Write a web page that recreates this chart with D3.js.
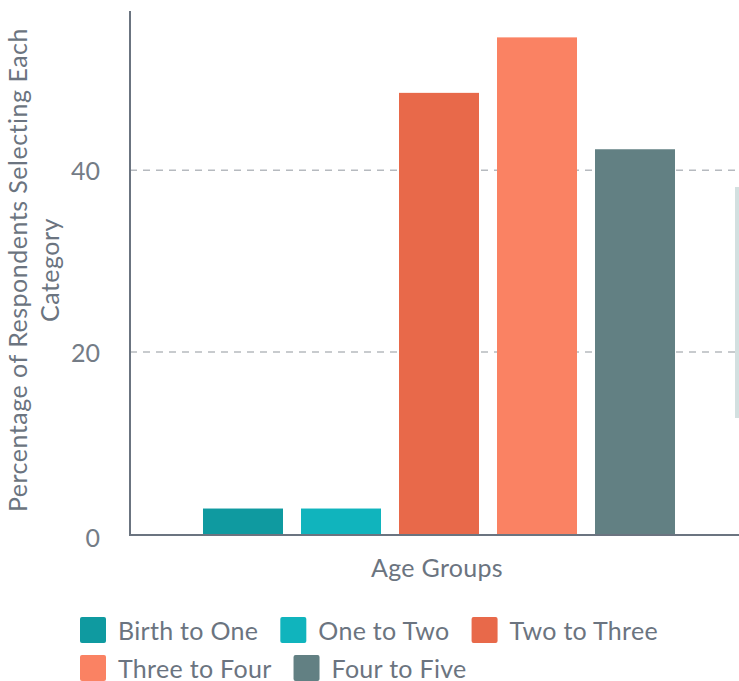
<!DOCTYPE html>
<html>
<head>
<meta charset="utf-8">
<script src="https://cdn.jsdelivr.net/npm/d3@7/dist/d3.min.js"></script>
<style>
  html, body { margin: 0; padding: 0; background: #fff; }
  svg { display: block; font-family: Lato, "Open Sans", sans-serif; }
</style>
</head>
<body>
<svg id="chart" width="739" height="681"></svg>
<script>
// Share of respondents choosing each age group
const category = "Age Groups";
const seriesNames = ["Birth to One", "One to Two", "Two to Three", "Three to Four", "Four to Five"];
const seriesValues = [2.8, 2.8, 48.5, 54.6, 42.3];
const seriesColors = ["#0f9aa0", "#10b4bd", "#e8694a", "#fa8263", "#628083"];
const yTicks = [0, 20, 40];
const yTitleLines = ["Percentage of Respondents Selecting Each", "Category"];

const svg = d3.select("#chart");
const textColor = "#6b7480";
const axisColor = "#6b7480";

const plot = { left: 130, right: 748, top: 11, bottom: 534 };

const y = d3.scaleLinear().domain([0, 57.5]).range([plot.bottom, plot.top]);

const x0 = d3.scaleBand()
  .domain([category])
  .range([plot.left, plot.right])
  .paddingInner(0)
  .paddingOuter(0.1306);

const x1 = d3.scaleBand()
  .domain(seriesNames)
  .range([0, x0.bandwidth()])
  .paddingInner(18 / 98)
  .paddingOuter(9 / 98);

// dashed grid lines
svg.append("g")
  .selectAll("line")
  .data(yTicks.filter(d => d > 0))
  .join("line")
  .attr("x1", plot.left)
  .attr("x2", plot.right)
  .attr("y1", d => y(d))
  .attr("y2", d => y(d))
  .attr("stroke", "#b6babf")
  .attr("stroke-width", 1.5)
  .attr("stroke-dasharray", "7,6");

// bars
svg.append("g")
  .attr("transform", `translate(${x0(category)},0)`)
  .selectAll("rect")
  .data(seriesNames.map((name, i) => ({ name, value: seriesValues[i], color: seriesColors[i] })))
  .join("rect")
  .attr("x", d => x1(d.name))
  .attr("width", x1.bandwidth())
  .attr("y", d => y(d.value))
  .attr("height", d => y(0) - y(d.value))
  .attr("fill", d => d.color);

// y axis
const yAxis = d3.axisLeft(y).tickValues(yTicks).tickSize(0).tickPadding(30);
const gy = svg.append("g")
  .attr("transform", `translate(${plot.left},0)`)
  .call(yAxis);
gy.select(".domain").remove();
gy.selectAll("text")
  .attr("fill", "#747c86")
  .style("font-size", "25px")
  .style("font-family", "Lato, sans-serif")
  .attr("dy", "0.36em");
gy.selectAll(".tick").filter(d => d === 0).select("text").attr("dy", "0.5em");

svg.append("line")
  .attr("x1", plot.left).attr("x2", plot.left)
  .attr("y1", plot.top).attr("y2", y(0) + 2)
  .attr("stroke", axisColor).attr("stroke-width", 2);

// x baseline
svg.append("line")
  .attr("x1", plot.left - 1).attr("x2", plot.right)
  .attr("y1", y(0) + 1).attr("y2", y(0) + 1)
  .attr("stroke", axisColor).attr("stroke-width", 2);

// axis titles
svg.append("text")
  .attr("x", x0(category) + x0.bandwidth() / 2 - 2)
  .attr("y", 577)
  .attr("text-anchor", "middle")
  .attr("fill", textColor)
  .style("font-size", "25px")
  .style("letter-spacing", "0.3px")
  .text(category);

svg.append("text")
  .attr("transform", "translate(27,270) rotate(-90)")
  .attr("text-anchor", "middle")
  .attr("fill", textColor)
  .style("font-size", "25px")
  .style("letter-spacing", "0.5px")
  .selectAll("tspan")
  .data(yTitleLines)
  .join("tspan")
  .attr("x", 0)
  .attr("dy", (d, i) => i === 0 ? 0 : "1.28em")
  .text(d => d);

// right-hand scroll track
svg.append("rect")
  .attr("x", 735).attr("y", 187)
  .attr("width", 4).attr("height", 231)
  .attr("fill", "#d3e0e0");

// legend, wrapped into rows
const legend = svg.append("g");
const rows = [[0, 1, 2], [3, 4]];
const rowTop = [617, 655];
rows.forEach((row, r) => {
  let cx = 80;
  row.forEach(i => {
    const g = legend.append("g").attr("transform", `translate(${cx},${rowTop[r]})`);
    g.append("rect")
      .attr("width", 26).attr("height", 26).attr("rx", 2)
      .attr("fill", seriesColors[i]);
    const t = g.append("text")
      .attr("x", 38).attr("y", 23)
      .attr("fill", textColor)
      .style("font-size", "25px")
      .style("letter-spacing", "0.3px")
      .text(seriesNames[i]);
    cx += 38 + t.node().getComputedTextLength() + 22;
  });
});
</script>
</body>
</html>
